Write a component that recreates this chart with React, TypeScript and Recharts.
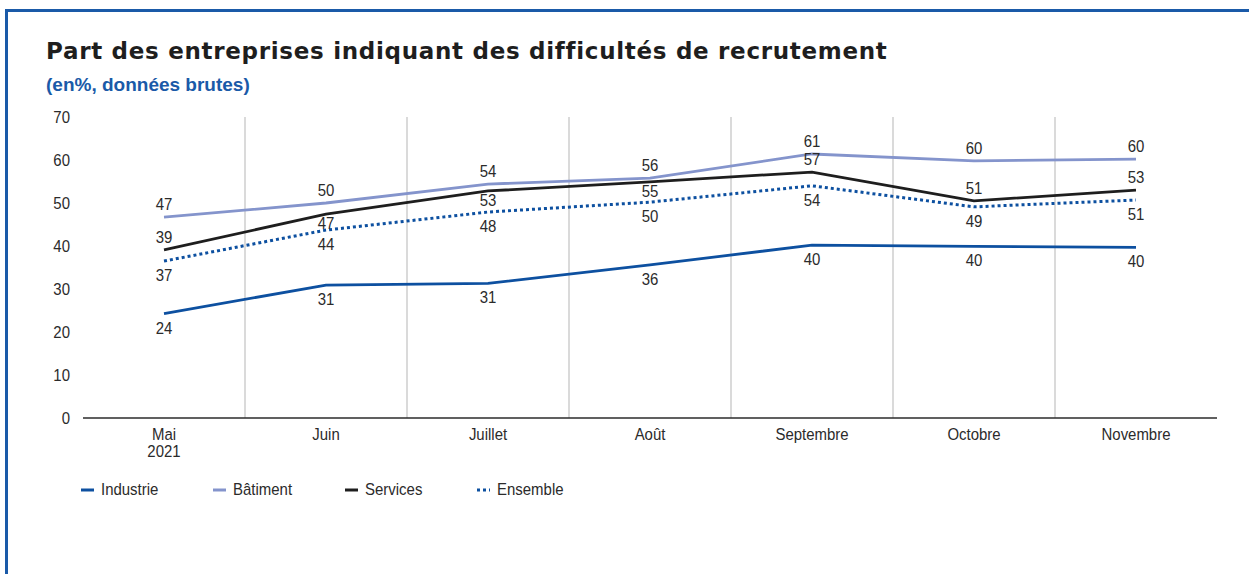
import { LineChart, Line, XAxis, YAxis, CartesianGrid, LabelList } from "recharts";

const months = ["Mai 2021", "Juin", "Juillet", "Août", "Septembre", "Octobre", "Novembre"];
const industrie = [24.3, 30.9, 31.3, 35.6, 40.2, 39.9, 39.7];
const batiment = [46.7, 50.0, 54.4, 55.8, 61.4, 59.8, 60.2];
const services = [39.1, 47.4, 52.8, 54.9, 57.2, 50.5, 53.0];
const ensemble = [36.5, 43.7, 47.9, 50.2, 54.0, 49.1, 50.7];
const yTicks = [0, 10, 20, 30, 40, 50, 60, 70];

const data = months.map((m, i) => ({
  month: m,
  idx: i + 0.5,
  industrie: industrie[i],
  batiment: batiment[i],
  services: services[i],
  ensemble: ensemble[i],
}));

const FONT = '"Liberation Sans", Arial, sans-serif';
const NARROW = 0.88; // fake Arial Narrow
const FS = 17;
const TEXT = "#2b2b2b";
const BLUE = "#0d50a0";

const series = [
  { key: "industrie", name: "Industrie", color: BLUE, dash: undefined, place: "bottom" },
  { key: "batiment", name: "Bâtiment", color: "#8494cc", dash: undefined, place: "top" },
  { key: "services", name: "Services", color: "#1e1e1e", dash: undefined, place: "auto" },
  { key: "ensemble", name: "Ensemble", color: BLUE, dash: "3 3", place: "bottom" },
];

const NarrowText = ({ x, y, anchor = "middle", children }: any) => (
  <g transform={`translate(${x},${y}) scale(${NARROW},1)`}>
    <text x={0} y={0} textAnchor={anchor} fontSize={FS} fontFamily={FONT} fill={TEXT}>
      {children}
    </text>
  </g>
);

// services label goes under the line when it would run into the bâtiment one
const makeLabel = (place: string) => (props: any) => {
  const { x, y, value, index } = props;
  let dy = place === "bottom" ? 20 : -7;
  if (place === "auto") dy = batiment[index] - services[index] < 4 ? 15 : -7;
  return (
    <NarrowText x={x} y={y + dy}>
      {Math.round(value)}
    </NarrowText>
  );
};

const MonthTick = (props: any) => {
  const { x, y, payload } = props;
  const parts = String(payload.value).split(" ");
  return (
    <g>
      {parts.map((p, i) => (
        <NarrowText key={i} x={x} y={y + 22 + i * 17}>
          {p}
        </NarrowText>
      ))}
    </g>
  );
};

const ValueTick = (props: any) => {
  const { x, y, payload } = props;
  return (
    <NarrowText x={x} y={y + 6} anchor="end">
      {payload.value}
    </NarrowText>
  );
};

export default function App() {
  return (
    <div style={{ position: "absolute", left: 0, top: 0, width: 1249, height: 574, overflow: "hidden", background: "#fff" }}>
      <div
        style={{
          position: "absolute",
          left: 5,
          top: 9,
          width: 1300,
          height: 700,
          border: "3px solid #1a5aa8",
          boxSizing: "border-box",
        }}
      />
      <div
        style={{
          position: "absolute",
          left: 46,
          top: 40,
          lineHeight: "23px",
          fontFamily: '"DejaVu Sans", sans-serif',
          fontWeight: 700,
          fontSize: 23,
          letterSpacing: 0.7,
          color: "#1e1e1e",
          whiteSpace: "nowrap",
        }}
      >
        Part des entreprises indiquant des difficultés de recrutement
      </div>
      <div
        style={{
          position: "absolute",
          left: 46,
          top: 74,
          fontFamily: FONT,
          fontWeight: 700,
          fontSize: 19,
          color: "#1a5aa8",
          whiteSpace: "nowrap",
        }}
      >
        (en%, données brutes)
      </div>
      <div style={{ position: "absolute", left: 0, top: 0 }}>
        <LineChart width={1249} height={574} data={data} margin={{ top: 117, right: 32, bottom: 116, left: 33 }}>
          <XAxis xAxisId="grid" dataKey="idx" type="number" domain={[0, 7]} ticks={[1, 2, 3, 4, 5, 6]} hide />
          <YAxis yAxisId="grid" type="number" domain={[0, 70]} ticks={[10, 20, 30, 40, 50, 60]} hide />
          <CartesianGrid xAxisId="grid" yAxisId="grid" syncWithTicks stroke="#b5b5b5" strokeWidth={1} />
          <XAxis
            dataKey="month"
            scale="band"
            height={40}
            axisLine={{ stroke: "#2b2b2b", strokeWidth: 1.5 }}
            tickLine={false}
            tickSize={0}
            tickMargin={0}
            tick={<MonthTick />}
            interval={0}
          />
          <YAxis
            domain={[0, 70]}
            ticks={yTicks}
            width={50}
            axisLine={false}
            tickLine={false}
            tickSize={0}
            tickMargin={13}
            tick={<ValueTick />}
          />
          {series.map((s) => (
            <Line
              key={s.key}
              dataKey={s.key}
              name={s.name}
              stroke={s.color}
              strokeWidth={s.dash ? 3 : 2.8}
              strokeDasharray={s.dash}
              dot={false}
              activeDot={false}
              isAnimationActive={false}
            >
              <LabelList dataKey={s.key} content={makeLabel(s.place)} />
            </Line>
          ))}
        </LineChart>
      </div>
      <div style={{ position: "absolute", left: 81, top: 480, display: "flex", fontFamily: FONT, fontSize: FS, color: TEXT }}>
        {series.map((s) => (
          <div key={s.key} style={{ width: 132, display: "flex", alignItems: "center" }}>
            <svg width={20} height={10}>
              <line x1={0} x2={13} y1={5} y2={5} stroke={s.color} strokeWidth={3} strokeDasharray={s.dash} />
            </svg>
            <span style={{ display: "inline-block", transform: `scaleX(${NARROW})`, transformOrigin: "left center" }}>{s.name}</span>
          </div>
        ))}
      </div>
    </div>
  );
}
